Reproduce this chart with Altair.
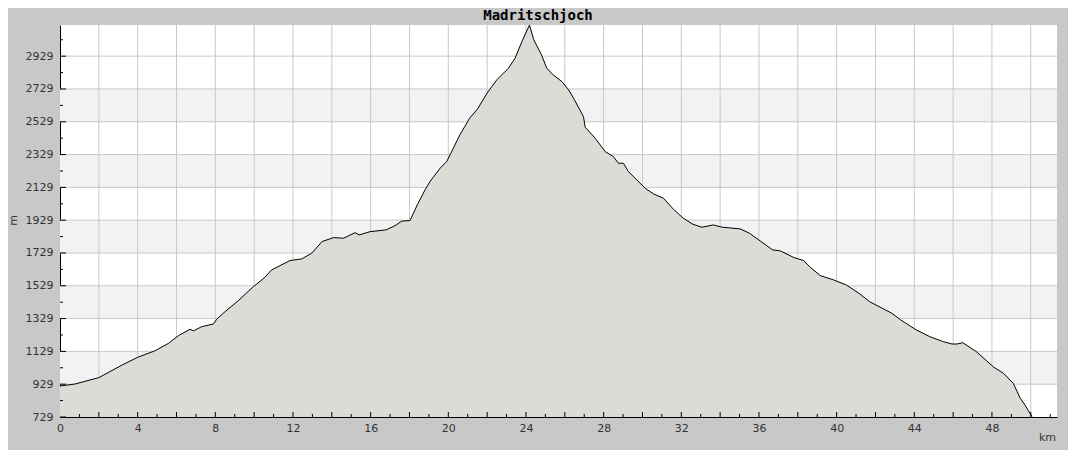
import altair as alt
import pandas as pd

TITLE = "Madritschjoch"

km = [0, 0.77, 2.0, 3.2, 4.0, 4.9, 5.6, 6.1, 6.7, 6.87, 7.3, 7.9, 8.07, 8.5, 9.2,
      9.96, 10.5, 10.9, 11.85, 12.45, 12.97, 13.5, 14.1, 14.6, 15.2, 15.4, 15.97,
      16.8, 17.26, 17.6, 18.03, 18.4, 18.8, 19.06, 19.58, 19.92, 20.6, 21.1, 21.5,
      22.0, 22.5, 23.1, 23.44, 23.79, 24.18, 24.4, 24.8, 25.07, 25.4, 25.85, 26.2,
      26.5, 26.96, 27.05, 27.56, 28.08, 28.5, 28.76, 29.02, 29.28, 29.7, 30.14,
      30.57, 31.08, 31.6, 32.1, 32.6, 33.06, 33.66, 34.1, 35.03, 35.5, 36.15, 36.7,
      37.1, 37.8, 38.3, 38.64, 39.16, 39.84, 40.5, 41.2, 41.7, 42.85, 43.3, 44.1,
      44.8, 45.5, 45.94, 46.2, 46.5, 47.2, 48.1, 48.6, 49.1, 49.46, 49.7, 50.06]
elev = [918, 930, 969, 1046, 1093, 1133, 1179, 1225, 1264, 1254, 1280, 1296, 1325,
        1371, 1440, 1524, 1575, 1626, 1683, 1693, 1728, 1799, 1823, 1819, 1853, 1839,
        1859, 1870, 1896, 1923, 1927, 2022, 2114, 2165, 2246, 2287, 2450, 2551, 2606,
        2704, 2785, 2856, 2917, 3018, 3119, 3029, 2937, 2856, 2815, 2774, 2723, 2662,
        2561, 2496, 2429, 2347, 2317, 2276, 2276, 2225, 2175, 2124, 2089, 2063, 1995,
        1941, 1904, 1886, 1900, 1886, 1876, 1850, 1795, 1748, 1742, 1701, 1683, 1642,
        1591, 1565, 1534, 1479, 1432, 1361, 1321, 1260, 1219, 1188, 1174, 1174, 1182,
        1127, 1032, 995, 934, 843, 802, 731]

y_labels = [729, 929, 1129, 1329, 1529, 1729, 1929, 2129, 2329, 2529, 2729, 2929]
y_minor = [829, 1029, 1229, 1429, 1629, 1829, 2029, 2229, 2429, 2629, 2829, 3029]
band_lo = [929, 1329, 1729, 2129, 2529]
band_hi = [1129, 1529, 1929, 2329, 2729]
x_labels = [0, 4, 8, 12, 16, 20, 24, 28, 32, 36, 40, 44, 48]
x_grid = list(range(2, 52, 2))
x_minor = list(range(1, 52, 2))

W, H = 997, 392
XD = [0, 51.35]
YD = [729, 3119]

xs = alt.Scale(domain=XD, nice=False, zero=False)
ys = alt.Scale(domain=YD, nice=False, zero=False)

XAX = alt.Axis(
    values=x_labels, format="d", grid=False, ticks=False, domainColor="black", domainWidth=1,
    labelFont="DejaVu Sans", labelFontSize=11, labelColor="#333", labelPadding=5,
    labelFlush=False, title="km", titleX=987, titleY=20, titleAlign="center",
    titleBaseline="middle", titleFont="DejaVu Sans", titleFontSize=11,
    titleFontWeight="normal", titleColor="#333")
YAX = alt.Axis(
    values=y_labels, format="d", grid=False, ticks=False, domainColor="black", domainWidth=1,
    labelFont="DejaVu Sans", labelFontSize=11, labelColor="#333", labelPadding=7,
    labelFlush=False, title="m", titleX=-47, titleY=195, titleAngle=270,
    titleAlign="center", titleBaseline="middle", titleFont="DejaVu Sans",
    titleFontSize=11, titleFontWeight="normal", titleColor="#333")


def X(f):
    return alt.X(f, type="quantitative", scale=xs, axis=XAX)


def Y(f):
    return alt.Y(f, type="quantitative", scale=ys, axis=YAX)


prof = pd.DataFrame({"km": km, "elev": elev})
bands = pd.DataFrame({"lo": band_lo, "hi": band_hi})

band_layer = alt.Chart(bands).mark_rect(color="#f3f1f4", opacity=1).encode(
    y=Y("lo"), y2="hi", x=alt.value(0), x2=alt.value(W))

gx = alt.Chart(pd.DataFrame({"g": x_grid})).mark_rule(color="#c8c8c8", strokeWidth=1).encode(
    x=X("g"), y=alt.value(0), y2=alt.value(H))
gy = alt.Chart(pd.DataFrame({"g": y_labels[1:]})).mark_rule(color="#c8c8c8", strokeWidth=1).encode(
    y=Y("g"), x=alt.value(0), x2=alt.value(W))

area = alt.Chart(prof).mark_area(
    color="#dcdbd6", opacity=1, line={"color": "black", "strokeWidth": 1}, interpolate="linear"
).encode(x=X("km"), y=Y("elev"), y2=alt.datum(729))

tx_major = alt.Chart(pd.DataFrame({"t": x_grid})).mark_rule(color="black").encode(
    x=X("t"), y=alt.value(H), y2=alt.value(H - 5))
tx_minor = alt.Chart(pd.DataFrame({"t": x_minor})).mark_rule(color="black").encode(
    x=X("t"), y=alt.value(H), y2=alt.value(H - 3))
ty_major = alt.Chart(pd.DataFrame({"t": y_labels})).mark_rule(color="black").encode(
    y=Y("t"), x=alt.value(0), x2=alt.value(6))
ty_minor = alt.Chart(pd.DataFrame({"t": y_minor})).mark_rule(color="black").encode(
    y=Y("t"), x=alt.value(0), x2=alt.value(3))

title = alt.Chart(pd.DataFrame({"t": [TITLE]})).mark_text(
    font="DejaVu Sans Mono", fontSize=14, fontWeight="bold", color="black",
    align="center", baseline="alphabetic"
).encode(text="t:N", x=alt.value(478), y=alt.value(-5))

chart = alt.layer(band_layer, gx, gy, area, tx_major, tx_minor, ty_major, ty_minor, title).properties(
    width=W, height=H,
    autosize=alt.AutoSizeParams(type="none"),
    padding={"left": 52, "top": 17, "right": 11, "bottom": 33},
    background="#c8c8c8",
).configure_view(fill="white", stroke=None)

chart.save("out.html", embed_options={"renderer": "svg", "actions": False})
